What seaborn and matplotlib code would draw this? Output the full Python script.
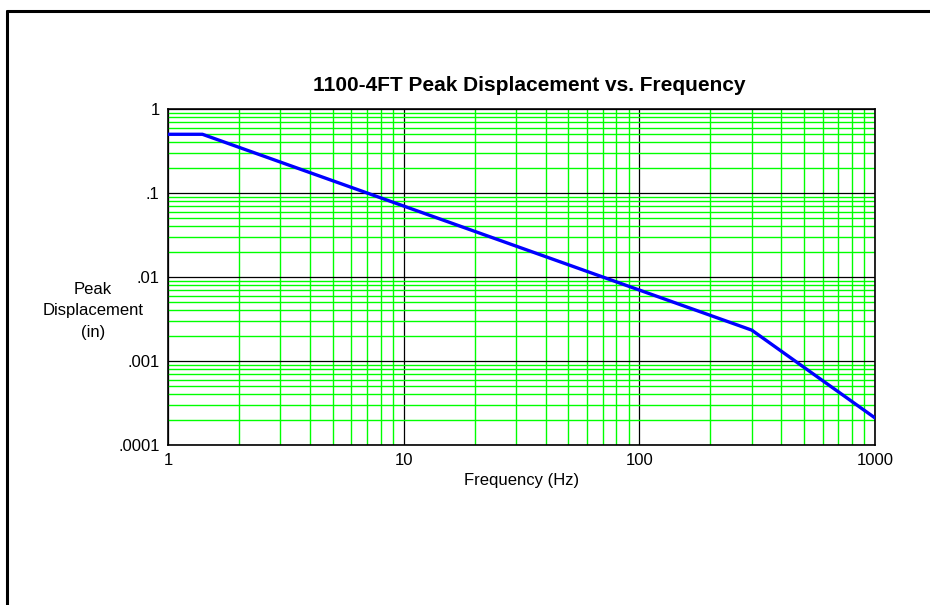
import matplotlib
matplotlib.use("Agg")
import matplotlib.pyplot as plt
import seaborn as sns
import pandas as pd
import numpy as np
from matplotlib.lines import Line2D
from matplotlib.ticker import LogLocator, FixedLocator, FixedFormatter, NullFormatter

freq = [1.0, 1.4, 300.0, 1000.0]
disp = [0.5, 0.5, 0.00233, 0.00021]
xticks = [1, 10, 100, 1000]
xlabels = ["1", "10", "100", "1000"]
yticks = [0.0001, 0.001, 0.01, 0.1, 1]
ylabels = [".0001", ".001", ".01", ".1", "1"]

sns.set_theme(style="white")
plt.rcParams['font.family'] = ['Liberation Sans', 'DejaVu Sans']
plt.rcParams['text.color'] = 'black'
plt.rcParams['axes.labelcolor'] = 'black'

fig = plt.figure(figsize=(9.3, 6.05), dpi=100)
fig.patch.set_facecolor("white")
ax = fig.add_axes([168/930, 1-445/605, (875-168)/930, (445-109)/605])

df = pd.DataFrame({"f": freq, "d": disp})
sns.lineplot(data=df, x="f", y="d", ax=ax, color="#0000FF", linewidth=2.4, zorder=5)
ax.set_xscale("log")
ax.set_yscale("log")
ax.set_xlim(1, 1000)
ax.set_ylim(0.0001, 1)

ax.xaxis.set_major_locator(FixedLocator(xticks))
ax.xaxis.set_major_formatter(FixedFormatter(xlabels))
ax.yaxis.set_major_locator(FixedLocator(yticks))
ax.yaxis.set_major_formatter(FixedFormatter(ylabels))
ax.xaxis.set_minor_locator(LogLocator(base=10, subs=np.arange(2, 10)))
ax.yaxis.set_minor_locator(LogLocator(base=10, subs=np.arange(2, 10)))
ax.xaxis.set_minor_formatter(NullFormatter())
ax.yaxis.set_minor_formatter(NullFormatter())

ax.grid(which="minor", color="#00FF00", linewidth=1.0)
ax.grid(which="major", color="black", linewidth=0.9)
ax.set_axisbelow(True)
ax.tick_params(which="both", length=0, labelsize=12, colors="black")
ax.tick_params(axis="x", pad=6)
ax.tick_params(axis="y", pad=6)
for s in ax.spines.values():
    s.set_color("black")
    s.set_linewidth(1.2)

ax.set_xlabel("Frequency (Hz)", fontsize=12, labelpad=3, color="black")
ax.set_ylabel("")
ax.set_title("1100-4FT Peak Displacement vs. Frequency", fontsize=15,
             fontweight="bold", pad=13, color="black", x=(529-168)/707)

fig.text(93/930, 1-311/605, "Peak\nDisplacement\n(in)", ha="center", va="center",
         fontsize=12, linespacing=1.55, color="black")

# outer frame (left and top edges visible)
fig.add_artist(Line2D([7/930, 7/930], [0, 1-11/605], transform=fig.transFigure,
                      color="black", linewidth=2.2))
fig.add_artist(Line2D([7/930, 1], [1-11/605, 1-11/605], transform=fig.transFigure,
                      color="black", linewidth=2.2))

fig.savefig("out.png", dpi=100, facecolor="white")
